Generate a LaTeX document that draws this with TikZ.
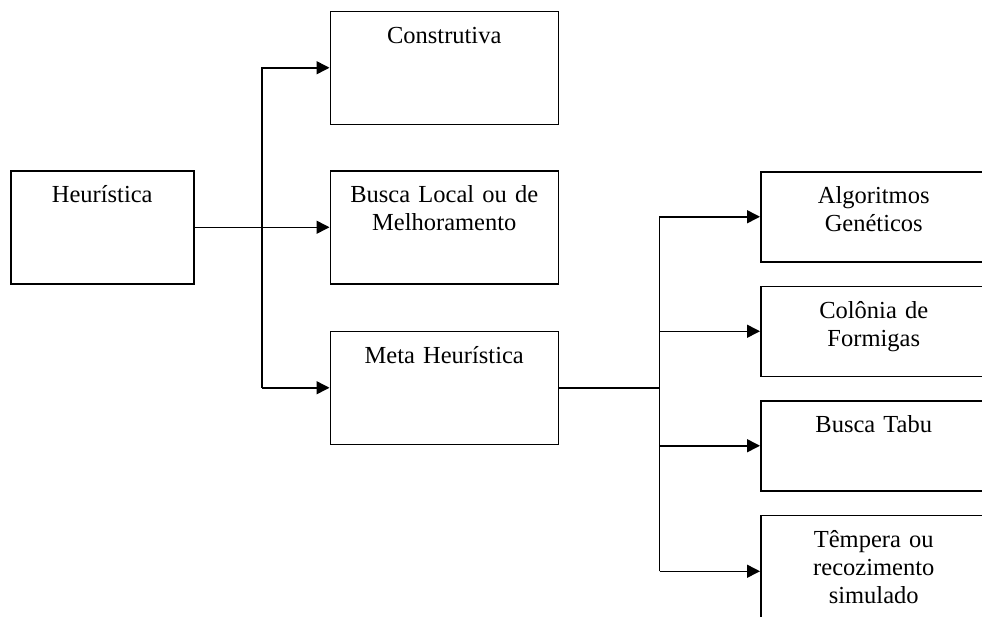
\documentclass[tikz,border=0pt]{standalone}
\usepackage{fontspec}
\setmainfont{Liberation Serif}
\usepackage{tikz}
\usetikzlibrary{positioning,calc,arrows.meta}

\tikzset{
  box/.style={draw, line width=1.5pt, align=center, inner xsep=4pt, inner ysep=0pt,
    text height=32pt, font=\fontsize{24.5}{28}\selectfont},
  leftbox/.style={box, text width=175pt, text depth=81pt},
  midbox/.style={box, text width=220pt, text depth=81pt},
  rightbox/.style={box, text width=218pt, text depth=58pt},
  arr/.style={line width=1.5pt, -{Triangle[length=13pt,width=13pt]}}
}

\begin{document}
\begin{tikzpicture}
\clip (0pt,0pt) rectangle (982pt,-616pt);

\node[leftbox, anchor=north west] (heur) at (10pt,-170pt) {Heurística};
\node[midbox, right=135pt of heur.north east, anchor=north west] (busca) {Busca Local ou de\\Melhoramento};
\node[midbox] (constr) [above=45pt of busca] {Construtiva};
\node[midbox] (meta) [below=46pt of busca] {Meta Heurística};

\node[rightbox, anchor=north west] (algo) at (760pt,-171pt) {Algoritmos\\Genéticos};
\node[rightbox] (colonia) [below=23pt of algo] {Colônia de\\Formigas};
\node[rightbox] (tabu) [below=23pt of colonia] {Busca Tabu};
\node[box, text width=218pt, text depth=80pt] (tempera) [below=23pt of tabu] {Têmpera ou\\recozimento\\simulado};

\coordinate (fork1) at ($(heur.east)!0.5!(busca.west)$);
\coordinate (fork2) at ($(meta.east)!0.5!(algo.west)$);

% heuristica
\draw[arr] (heur.east) -- (busca.west);
\draw[arr] (fork1 |- meta.west) |- (constr.west);
\draw[arr] (fork1 |- meta.west) -- (meta.west);

% meta heuristica
\draw[line width=1.5pt] (meta.east) -- (fork2 |- meta.east);
\draw[arr] (fork2 |- tempera.west) |- (algo.west);
\draw[arr] (fork2 |- colonia.west) -- (colonia.west);
\draw[arr] (fork2 |- tabu.west) -- (tabu.west);
\draw[arr] (fork2 |- tempera.west) -- (tempera.west);
\end{tikzpicture}
\end{document}
